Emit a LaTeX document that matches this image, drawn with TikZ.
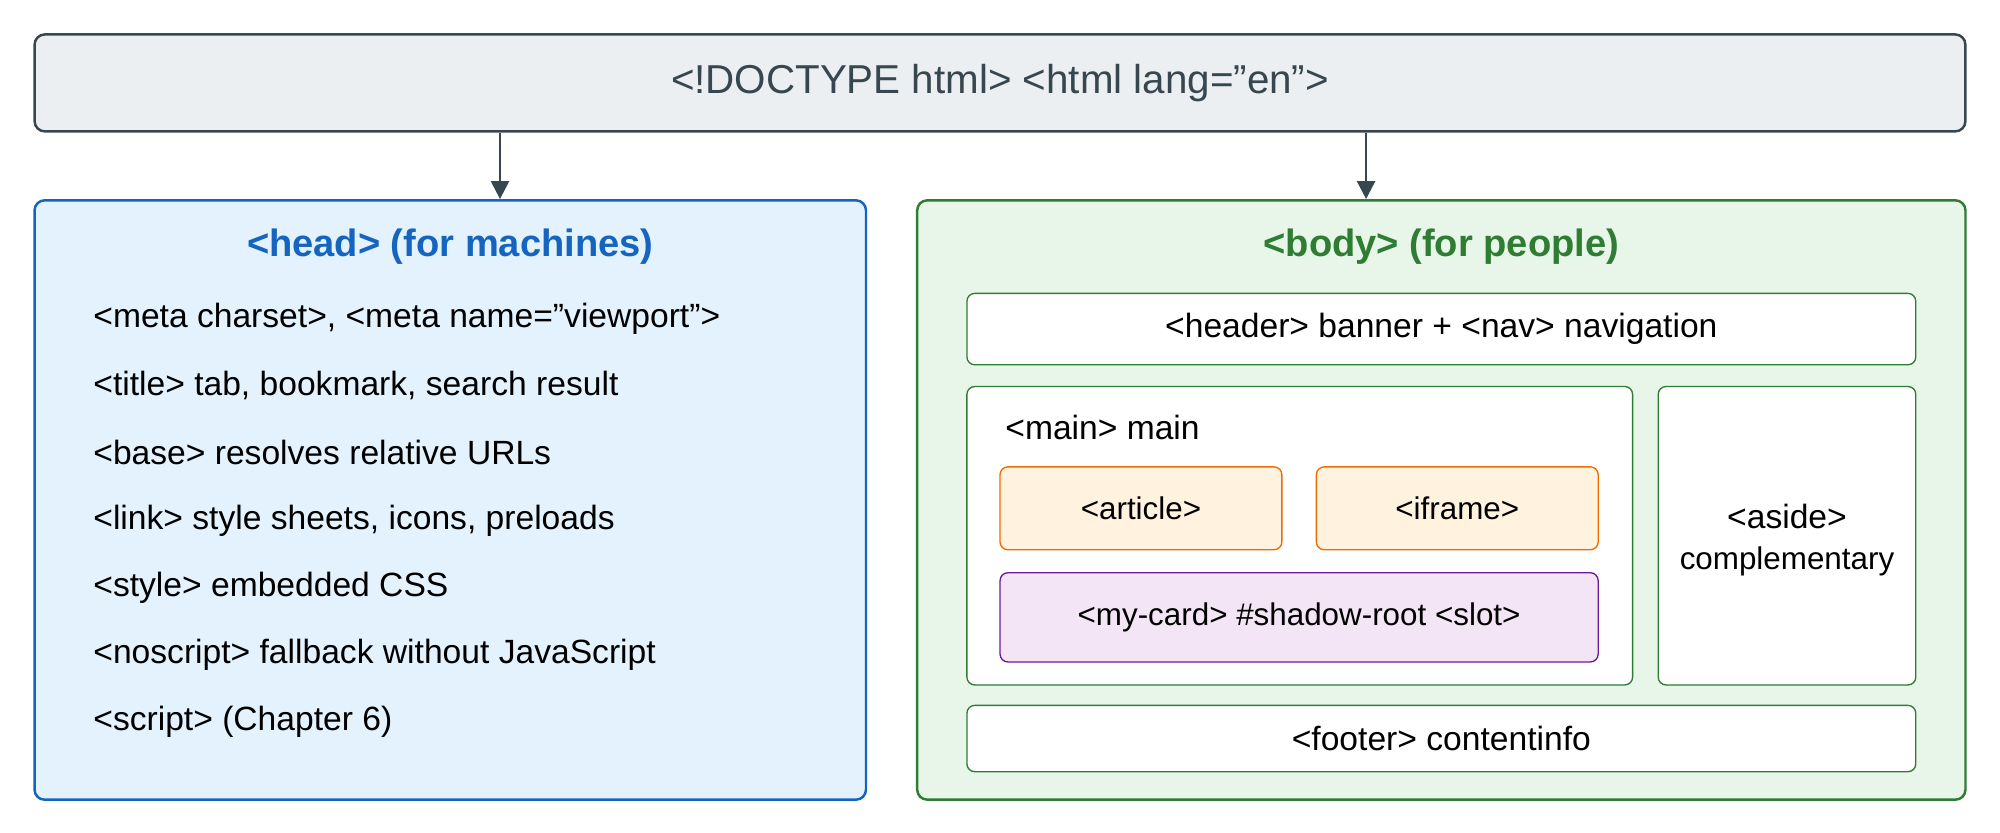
\documentclass[tikz,border=0pt]{standalone}
\usepackage{fontspec}
\setmainfont{Liberation Sans}
\usetikzlibrary{arrows.meta}
\usetikzlibrary{calc}

\definecolor{topfill}{HTML}{ECEFF1}
\definecolor{topdraw}{HTML}{37474F}
\definecolor{headfill}{HTML}{E3F2FD}
\definecolor{headdraw}{HTML}{1565C0}
\definecolor{bodyfill}{HTML}{E8F5E9}
\definecolor{bodydraw}{HTML}{2E7D32}
\definecolor{artfill}{HTML}{FFF3E0}
\definecolor{artdraw}{HTML}{EF6C00}
\definecolor{cardfill}{HTML}{F3E5F5}
\definecolor{carddraw}{HTML}{6A1B9A}

\begin{document}
\begin{tikzpicture}[x=0.02cm, y=-0.02cm,
        box_style/.style={rectangle, rounded corners=4.5pt, line width=1.1pt, inner sep=0pt},
        inner_style/.style={rectangle, rounded corners=3.5pt, draw=bodydraw, fill=white, line width=0.6pt, inner sep=0pt, font=\fontsize{15}{18}\selectfont},
        small_style/.style={rectangle, rounded corners=3.5pt, line width=0.6pt, inner sep=0pt, font=\fontsize{14}{17}\selectfont},
        item_style/.style={anchor=west, font=\fontsize{15}{18}\selectfont},
        arrow_style/.style={draw=topdraw, line width=1.1pt, -{Triangle[length=8pt, width=8pt]}}]
        \useasboundingbox (0,0) rectangle (1568,653);

        \node [box_style, draw=topdraw, fill=topfill, text=topdraw, minimum width=30.28cm, minimum height=1.52cm, font=\fontsize{18}{22}\selectfont](top) at (784,65) {<!DOCTYPE html> <html lang="en">};
        \node [box_style, draw=headdraw, fill=headfill, minimum width=13.04cm, minimum height=9.4cm](head) at (353,392) {};
        \node [box_style, draw=bodydraw, fill=bodyfill, minimum width=16.44cm, minimum height=9.4cm](body) at (1130,392) {};

        % arrows
        \coordinate (a1) at (392,0);
        \coordinate (a2) at (1071,0);
        \draw [arrow_style] (top.south -| a1) -- (head.north -| a1);
        \draw [arrow_style] (top.south -| a2) -- (body.north -| a2);

        % head
        \node [text=headdraw, font=\fontsize{17}{20}\selectfont\bfseries](headtitle) at (353,193) {<head> (for machines)};
        \node [item_style](h1) at (67,250) {<meta charset>, <meta name="viewport">};
        \node [item_style](h2) at (67,302) {<title> tab, bookmark, search result};
        \node [item_style](h3) at (67,355) {<base> resolves relative URLs};
        \node [item_style](h4) at (67,408) {<link> style sheets, icons, preloads};
        \node [item_style](h5) at (67,461) {<style> embedded CSS};
        \node [item_style](h6) at (67,513) {<noscript> fallback without JavaScript};
        \node [item_style](h7) at (67,566) {<script> (Chapter 6)};

        % body
        \node [text=bodydraw, font=\fontsize{17}{20}\selectfont\bfseries](bodytitle) at (1130,193) {<body> (for people)};
        \node [inner_style, minimum width=14.88cm, minimum height=1.12cm](header) at (1130,258) {<header> banner + <nav> navigation};
        \node [inner_style, minimum width=10.44cm, minimum height=4.68cm](main) at (1019,420) {};
        \node [item_style](maintitle) at (782,335) {<main> main};
        \node [small_style, draw=artdraw, fill=artfill, minimum width=4.42cm, minimum height=1.3cm](article) at (894.5,398.5) {<article>};
        \node [small_style, draw=artdraw, fill=artfill, minimum width=4.42cm, minimum height=1.3cm](iframe) at (1142.5,398.5) {<iframe>};
        \node [small_style, draw=carddraw, fill=cardfill, minimum width=9.38cm, minimum height=1.4cm](card) at (1018.5,484) {<my-card> \#shadow-root <slot>};
        \node [inner_style, minimum width=4.04cm, minimum height=4.68cm](aside) at (1401,420) {};
        \node [font=\fontsize{15}{18}\selectfont](asidetitle) at (1401,405) {<aside>};
        \node [font=\fontsize{14}{17}\selectfont](asidetext) at (1401,440) {complementary};
        \node [inner_style, minimum width=14.88cm, minimum height=1.04cm](footer) at (1130,579) {<footer> contentinfo};
\end{tikzpicture}
\end{document}
